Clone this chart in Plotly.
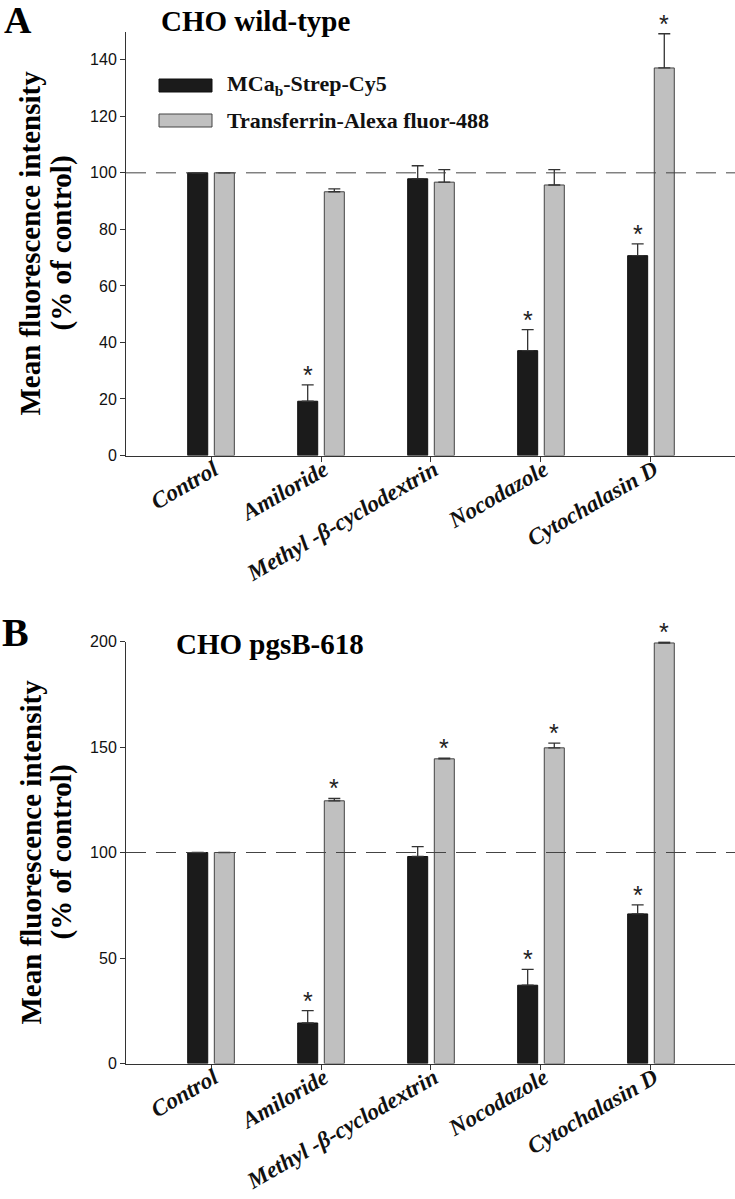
import plotly.graph_objects as go

# ---------------- data ----------------
categories = ["Control", "Amiloride", "Methyl -β-cyclodextrin", "Nocodazole", "Cytochalasin D"]
series_names = ["MCa<sub>b</sub>-Strep-Cy5", "Transferrin-Alexa fluor-488"]

# Panel A: CHO wild-type
a_mca = [100, 19.2, 97.9, 37.1, 70.7]
a_mca_err = [None, 5.8, 4.6, 7.4, 4.2]
a_tf = [100, 93.3, 96.7, 95.7, 137.1]
a_tf_err = [None, 1.0, 4.4, 5.4, 12.1]
a_mca_sig = [False, True, False, True, True]
a_tf_sig = [False, False, False, False, True]

# Panel B: CHO pgsB-618
b_mca = [100, 19.2, 98.1, 37.1, 70.9]
b_mca_err = [None, 5.9, 4.7, 7.5, 4.3]
b_tf = [100, 124.5, 144.4, 149.6, 199.3]
b_tf_err = [None, 1.1, 0.3, 2.2, 0.5]
b_mca_sig = [False, True, False, True, True]
b_tf_sig = [False, True, True, True, True]

control_level = 100
a_range = [0, 150]
a_ticks = [0, 20, 40, 60, 80, 100, 120, 140]
b_range = [0, 200]
b_ticks = [0, 50, 100, 150, 200]

# ---------------- style ----------------
W, H = 735, 1199
BLACK = "#1b1b1b"
GRAY = "#c0c0c0"
SERIF = "Liberation Serif, Times New Roman, serif"
SANS = "Liberation Sans, Arial, sans-serif"
INK = "#222222"


def px(x):
    return x / W


def py(y):
    return 1 - y / H


fig = go.Figure()

panels = [
    ("x", "y", a_mca, a_mca_err, a_tf, a_tf_err, a_mca_sig, a_tf_sig),
    ("x2", "y2", b_mca, b_mca_err, b_tf, b_tf_err, b_mca_sig, b_tf_sig),
]

annotations = []
for xa, ya, mca, mca_err, tf, tf_err, mca_sig, tf_sig in panels:
    fig.add_trace(go.Bar(
        x=categories, y=mca, xaxis=xa, yaxis=ya, name=series_names[0],
        marker=dict(color=BLACK, line=dict(color="#111111", width=1)),
        error_y=dict(type="data", array=mca_err, arrayminus=[0] * len(mca),
                     symmetric=False, color="#333333", thickness=1.3, width=6),
        showlegend=False, hoverinfo="skip",
    ))
    fig.add_trace(go.Bar(
        x=categories, y=tf, xaxis=xa, yaxis=ya, name=series_names[1],
        marker=dict(color=GRAY, line=dict(color="#444444", width=1)),
        error_y=dict(type="data", array=tf_err, arrayminus=[0] * len(tf),
                     symmetric=False, color="#333333", thickness=1.3, width=6),
        showlegend=False, hoverinfo="skip",
    ))
    # significance stars
    for vals, errs, sig, shift in ((mca, mca_err, mca_sig, -13.3), (tf, tf_err, tf_sig, 13.3)):
        for i, (v, e, s) in enumerate(zip(vals, errs, sig)):
            if s:
                annotations.append(dict(
                    x=categories[i], y=v + (e or 0), xref=xa, yref=ya,
                    text="*", showarrow=False, xshift=shift, yshift=-6,
                    yanchor="bottom", xanchor="center",
                    font=dict(family=SANS, size=25, color=INK),
                ))

# dashed control line
shapes = []
for xa, ya in (("x", "y"), ("x2", "y2")):
    shapes.append(dict(
        type="line", xref=f"{xa} domain", yref=ya, x0=0, x1=1,
        y0=control_level, y1=control_level, layer="above",
        line=dict(color="#444444", width=1, dash="20px,10px"),
    ))

# manual legend (wide swatches)
for (col, lc), ytop, name in (((BLACK, "#111111"), 79, series_names[0]),
                               ((GRAY, "#444444"), 114, series_names[1])):
    shapes.append(dict(type="rect", xref="paper", yref="paper",
                       x0=px(159), x1=px(212), y0=py(ytop + 13), y1=py(ytop),
                       fillcolor=col, line=dict(color=lc, width=1)))
    annotations.append(dict(x=px(225), y=py(ytop + 6.5), xref="paper", yref="paper",
                            text=f"<b>{name}</b>", showarrow=False, xanchor="left", yanchor="middle",
                            font=dict(family=SERIF, size=22, color="#111111")))

# titles & panel letters & y titles
text_items = [
    ("<b>A</b>", 18, 20, 38),
    ("<b>B</b>", 16, 632, 40),
    ("<b>CHO wild-type</b>", 255, 21, 29),
    ("<b>CHO pgsB-618</b>", 270, 644, 29),
]
for t, x, y, s in text_items:
    annotations.append(dict(x=px(x), y=py(y), xref="paper", yref="paper", text=t,
                            showarrow=False, xanchor="center", yanchor="middle",
                            font=dict(family=SERIF, size=s, color="#000000")))

for ymid in ((455.5 + 31.5) / 2, (1063.5 + 641.5) / 2):
    for t, x in (("<b>Mean fluorescence intensity</b>", 30), ("<b>(% of control)</b>", 61)):
        annotations.append(dict(x=px(x), y=py(ymid), xref="paper", yref="paper", text=t,
                                showarrow=False, xanchor="center", yanchor="middle",
                                textangle=-90,
                                font=dict(family=SERIF, size=29, color="#000000")))

xdom = [px(126), 1.0]
common_x = dict(
    domain=xdom, range=[-0.773, 4.764], showline=True, linecolor="#333333", linewidth=1,
    ticks="outside", ticklen=5, tickcolor="#333333", tickangle=-30,
    ticklabelstandoff=-14, ticklabelshift=3,
    tickfont=dict(family=SERIF, size=23, color="#111111"), showgrid=False, zeroline=False,
    automargin=False, fixedrange=True,
)
common_y = dict(
    showline=True, linecolor="#333333", linewidth=1, ticks="outside", ticklen=5,
    tickcolor="#333333", tickfont=dict(family=SANS, size=16, color="#111111"),
    showgrid=False, zeroline=False, automargin=False, fixedrange=True,
)

ticktext = [f"<b><i>{c}</i></b>" for c in categories]

fig.update_layout(
    width=W, height=H, margin=dict(l=0, r=0, t=0, b=0),
    paper_bgcolor="white", plot_bgcolor="white",
    barmode="group", bargap=0.516, bargroupgap=0.248,
    showlegend=False,
    xaxis=dict(common_x, anchor="y", tickvals=categories, ticktext=ticktext),
    xaxis2=dict(common_x, anchor="y2", tickvals=categories, ticktext=ticktext),
    yaxis=dict(common_y, anchor="x", domain=[py(455.5), py(31.5)], range=a_range, tickvals=a_ticks),
    yaxis2=dict(common_y, anchor="x2", domain=[py(1063.5), py(641.5)], range=b_range, tickvals=b_ticks),
    shapes=shapes,
    annotations=annotations,
)

fig.write_html(
    "out.html",
    config={"displayModeBar": False, "staticPlot": True},
    post_script="document.body.style.margin='0';document.body.style.padding='0';"
                "document.body.style.overflow='hidden';",
)
